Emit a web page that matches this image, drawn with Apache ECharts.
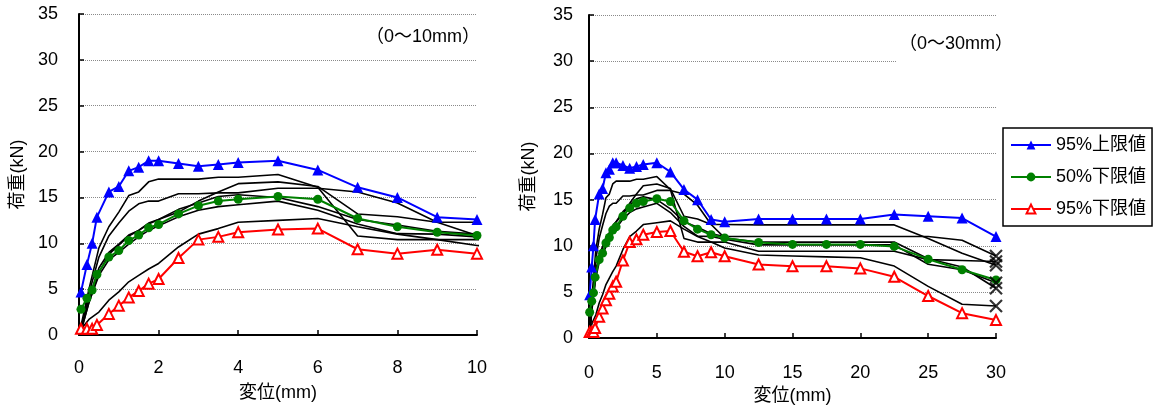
<!DOCTYPE html>
<html><head><meta charset="utf-8">
<script src="https://cdn.jsdelivr.net/npm/echarts@6/dist/echarts.min.js"></script>
<style>html,body{margin:0;padding:0;background:#fff}#c{width:1160px;height:410px}</style>
</head><body><div id="c"></div>
<script>
// ---- data ----
const seriesNames = ['95%上限値', '50%下限値', '95%下限値'];
const boundX   = [0.05, 0.2, 0.33, 0.45, 0.75, 1, 1.25, 1.5, 1.75, 2, 2.5, 3, 3.5, 4, 5, 6, 7, 8, 9, 10, 12.5, 15, 17.5, 20, 22.5, 25, 27.5, 30];
const upper95  = [4.7, 7.7, 10.0, 12.85, 15.6, 16.2, 17.9, 18.3, 19.0, 19.0, 18.7, 18.4, 18.6, 18.8, 19.0, 18.0, 16.1, 15.0, 12.85, 12.6, 12.9, 12.9, 12.9, 12.9, 13.4, 13.2, 13.0, 11.0];
const lower50  = [2.8, 4.0, 4.9, 6.6, 8.5, 9.2, 10.3, 10.9, 11.7, 12.05, 13.2, 14.1, 14.6, 14.8, 15.1, 14.8, 12.7, 11.8, 11.2, 10.85, 10.36, 10.15, 10.15, 10.15, 9.93, 8.55, 7.4, 6.3];
const lower95  = [0.67, 0.67, 0.67, 1.1, 2.3, 3.2, 4.1, 4.8, 5.6, 6.1, 8.4, 10.4, 10.7, 11.2, 11.5, 11.6, 9.35, 8.87, 9.3, 8.87, 7.98, 7.78, 7.78, 7.55, 6.64, 4.56, 2.7, 1.95];

const specX = [0, 0.1, 0.25, 0.5, 0.75, 1, 1.25, 1.5, 1.75, 2, 2.5, 3, 3.5, 4, 5, 6, 7, 8, 9, 10, 12.5, 15, 17.5, 20, 22.5, 25, 27.5, 30];
const spec1 = [0, 2.0, 5.0, 9.5, 11.8, 13.4, 15.2, 15.6, 16.7, 17.0, 17.0, 17.0, 17.2, 17.2, 17.5, 16.1, 10.8, 10.4, 10.4, 10.4, 9.4, 9.4, 9.4, 9.4, 9.4, 8.5, 8.4, 8.3];
const spec2 = [0, 1.5, 4.5, 8.5, 10.8, 12.2, 13.5, 14.3, 14.6, 14.6, 15.4, 15.4, 15.5, 15.5, 16.0, 16.0, 15.6, 14.4, 12.3, 10.85, 10.4, 10.4, 10.4, 10.4, 10.4, 8.6, 7.7, 5.4];
const spec3 = [0, 1.2, 3.5, 6.8, 8.8, 9.8, 10.8, 11.4, 12.1, 12.6, 13.4, 14.6, 15.6, 16.5, 16.7, 16.2, 13.2, 12.9, 12.3, 12.3, 12.26, 12.26, 12.26, 12.26, 12.26, 10.8, 9.2, 7.9];
const spec4 = [0, 1.4, 4.0, 7.3, 9.0, 9.9, 10.9, 11.4, 12.2, 12.6, 13.7, 14.4, 15.1, 15.3, 15.0, 14.0, 12.6, 12.0, 11.3, 11.0, 11.0, 11.0, 11.0, 11.0, 11.0, 11.0, 10.6, 8.9];
const spec5 = [0, 1.2, 3.6, 6.5, 8.2, 9.0, 9.9, 10.7, 11.4, 11.9, 12.9, 13.6, 14.0, 14.2, 14.6, 13.6, 12.1, 11.05, 11.0, 10.7, 10.1, 10.1, 10.1, 10.1, 10.1, 8.0, 7.4, 6.0];
const spec6 = [0, 0.9, 1.7, 2.5, 3.8, 4.7, 5.8, 6.5, 7.2, 7.8, 9.6, 11.0, 11.6, 12.3, 12.5, 12.7, 11.8, 11.0, 10.4, 9.76, 9.0, 8.9, 8.8, 8.7, 7.8, 5.6, 3.66, 3.48];
const specimens = [spec1, spec2, spec3, spec4, spec5, spec6];

const panelTitles = ['（0～10mm）', '（0～30mm）'];
const xMax = [10, 30];
const xInterval = [2, 5];
const yAxisName = '荷重(kN)';
const xAxisName = '変位(mm)';

// ---- build ----
const FONT = "'Liberation Sans', 'Noto Sans CJK JP', sans-serif";
const pairs = (xs, ys) => xs.map((x, i) => [x, ys[i]]);
const grids = [
  {left: 79, top: 14, width: 398, height: 321},
  {left: 589, top: 15, width: 407, height: 326}
];
const xAxes = [], yAxes = [], series = [];
const colors = ['#0000FF', '#008000', '#FF0000'];
const symbols = ['triangle', 'circle', 'emptyTriangle'];
const symSizes = [11, 9, 10];
const bounds = [upper95, lower50, lower95];

for (let p = 0; p < 2; p++) {
  xAxes.push({
    type: 'value', gridIndex: p, min: 0, max: xMax[p], interval: xInterval[p],
    name: xAxisName, nameLocation: 'middle', nameGap: p === 0 ? 49 : 48,
    nameTextStyle: {fontSize: 18, color: '#000', fontFamily: FONT},
    axisLine: {show: true, onZero: false, lineStyle: {color: '#000', width: 2}},
    axisTick: {show: true, inside: true, length: 5, lineStyle: {color: '#000', width: 1.5}},
    axisLabel: {fontSize: 18, color: '#000', margin: p === 0 ? 24 : 26, fontFamily: FONT},
    splitLine: {show: false}
  });
  yAxes.push({
    type: 'value', gridIndex: p, min: 0, max: 35, interval: 5,
    name: yAxisName, nameLocation: 'middle', nameGap: p === 0 ? 52 : 51,
    nameTextStyle: {fontSize: 18, color: '#000', fontFamily: FONT},
    axisLine: {show: true, lineStyle: {color: '#000', width: 2}},
    axisTick: {show: true, inside: true, length: 5, lineStyle: {color: '#000', width: 1.5}},
    axisLabel: {fontSize: 18, color: '#000', margin: p === 0 ? 21 : 16, fontFamily: FONT},
    splitLine: {show: true, lineStyle: {color: '#8a8a8a', type: 'dotted', width: 1}}
  });
  specimens.forEach((s) => {
    series.push({
      type: 'line', xAxisIndex: p, yAxisIndex: p, data: pairs(specX, s),
      symbol: 'none', silent: true, z: 2,
      lineStyle: {color: '#000', width: 1.6}
    });
  });
  bounds.forEach((b, k) => {
    series.push({
      name: seriesNames[k], type: 'line', xAxisIndex: p, yAxisIndex: p,
      data: pairs(boundX, b), symbol: symbols[k], symbolSize: symSizes[k],
      showAllSymbol: true, z: 3,
      color: colors[k],
      itemStyle: {color: colors[k], borderWidth: k === 2 ? 1.6 : 0, borderColor: colors[k]},
      lineStyle: {color: colors[k], width: 2}
    });
  });
}
// end markers (×) on the long-range panel
series.push({
  type: 'scatter', xAxisIndex: 1, yAxisIndex: 1, z: 4, silent: true,
  data: specimens.map(s => [specX[specX.length - 1], s[s.length - 1]]),
  symbol: 'path://M0,0L10,10M10,0L0,10', symbolSize: 12,
  itemStyle: {color: 'rgba(0,0,0,0)', borderColor: '#000', borderWidth: 2.2}
});

const option = {
  animation: false,
  backgroundColor: '#fff',
  textStyle: {fontFamily: FONT},
  title: [
    {text: panelTitles[0], left: 364, top: 26, padding: [2, 2, 2, 2],
     textStyle: {fontSize: 18, fontWeight: 'normal', color: '#000', fontFamily: FONT}},
    {text: panelTitles[1], left: 896, top: 33, padding: [2, 1, 12, 3], backgroundColor: '#fff',
     textStyle: {fontSize: 18, fontWeight: 'normal', color: '#000', fontFamily: FONT}}
  ],
  legend: {
    data: seriesNames, orient: 'vertical', left: 1003, top: 128,
    itemWidth: 40, itemHeight: 11, itemGap: 14, selectedMode: false,
    backgroundColor: '#fff', borderColor: '#000', borderWidth: 1.5,
    padding: [8, 6, 8, 7],
    textStyle: {fontSize: 18, color: '#000', fontFamily: FONT}
  },
  grid: grids,
  xAxis: xAxes,
  yAxis: yAxes,
  series: series
};
const chart = echarts.init(document.getElementById('c'), null, {renderer: 'canvas'});
chart.setOption(option);
</script>
</body></html>
